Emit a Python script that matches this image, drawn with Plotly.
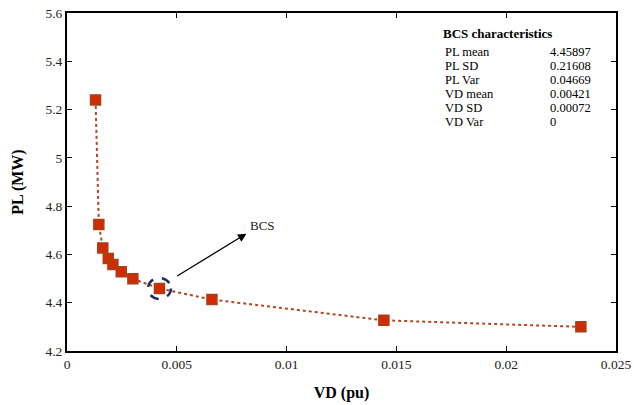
import plotly.graph_objects as go

vd = [0.0013, 0.00145, 0.00163, 0.00188, 0.00209, 0.00247, 0.0030, 0.00421, 0.0066, 0.01443, 0.0234]
pl = [5.240, 4.724, 4.627, 4.583, 4.558, 4.528, 4.499, 4.459, 4.413, 4.327, 4.300]

bcs_vd = 0.00421
bcs_pl = 4.459

stat_names = ["PL mean", "PL SD", "PL Var", "VD mean", "VD SD", "VD Var"]
stat_values = ["4.45897", "0.21608", "0.04669", "0.00421", "0.00072", "0"]

x_ticks = [0, 0.005, 0.01, 0.015, 0.02, 0.025]
x_ticklabels = ["0", "0.005", "0.01", "0.015", "0.02", "0.025"]
y_ticks = [4.2, 4.4, 4.6, 4.8, 5.0, 5.2, 5.4, 5.6]
y_ticklabels = ["4.2", "4.4", "4.6", "4.8", "5", "5.2", "5.4", "5.6"]

FONT = "Liberation Serif, Times New Roman, serif"

fig = go.Figure()
fig.add_trace(go.Scatter(
    x=vd, y=pl, mode="lines+markers",
    line=dict(color="#b5461e", width=2, dash="dot"),
    marker=dict(symbol="square", size=10, color="#d02c00",
                line=dict(color="#a8401a", width=1.5)),
    showlegend=False,
))

# dashed circle around BCS point
fig.add_shape(type="circle", xref="x", yref="y",
              xsizemode="pixel", ysizemode="pixel",
              xanchor=bcs_vd, yanchor=bcs_pl,
              x0=-11.5, x1=11.5, y0=-10.5, y1=10.5,
              line=dict(color="#1c2d6b", width=2.5, dash="dash"))

# arrow
fig.add_annotation(x=0.00817, y=4.686, ax=0.00495, ay=4.507,
                   xref="x", yref="y", axref="x", ayref="y",
                   text="", showarrow=True, arrowhead=2, arrowsize=1.3,
                   arrowwidth=1.3, arrowcolor="black", standoff=0, startstandoff=0)
fig.add_annotation(x=0.00891, y=4.719, xref="x", yref="y", text="BCS",
                   showarrow=False, font=dict(family=FONT, size=13, color="#222"))

# statistics box
fig.add_annotation(x=0.682, y=(351.5 - 33.3) / 338.5, xref="paper", yref="paper",
                   text="<b>BCS characteristics</b>", showarrow=False,
                   xanchor="left", yanchor="middle",
                   font=dict(family=FONT, size=13, color="black"))
for i, (name, val) in enumerate(zip(stat_names, stat_values)):
    py = 51.7 + i * 14.12
    yp = (351.5 - py) / 338.5
    fig.add_annotation(x=0.6848, y=yp, xref="paper", yref="paper", text=name,
                       showarrow=False, xanchor="left", yanchor="middle",
                       font=dict(family=FONT, size=12.5, color="black"))
    fig.add_annotation(x=0.876, y=yp, xref="paper", yref="paper", text=val,
                       showarrow=False, xanchor="left", yanchor="middle",
                       font=dict(family=FONT, size=12.5, color="black"))

axis_common = dict(showgrid=False, zeroline=False, showline=True, linecolor="black",
                   linewidth=2, mirror="ticks", ticks="inside", ticklen=5,
                   tickcolor="black", tickwidth=1, automargin=False,
                   tickfont=dict(family=FONT, size=13.5, color="#222"))

fig.update_xaxes(range=[0, 0.025], tickvals=x_ticks, ticktext=x_ticklabels,
                 title=dict(text="<b>VD (pu)</b>", font=dict(family=FONT, size=16, color="black"),
                            standoff=16),
                 **axis_common)
fig.update_yaxes(range=[4.2, 5.6], tickvals=y_ticks, ticktext=y_ticklabels,
                 title=dict(text="<b>PL (MW)</b>", font=dict(family=FONT, size=16, color="black"),
                            standoff=18),
                 **axis_common)

fig.update_layout(width=634, height=405, margin=dict(l=67, r=18, t=13, b=54),
                  plot_bgcolor="white", paper_bgcolor="white")

fig.write_html("out.html")
